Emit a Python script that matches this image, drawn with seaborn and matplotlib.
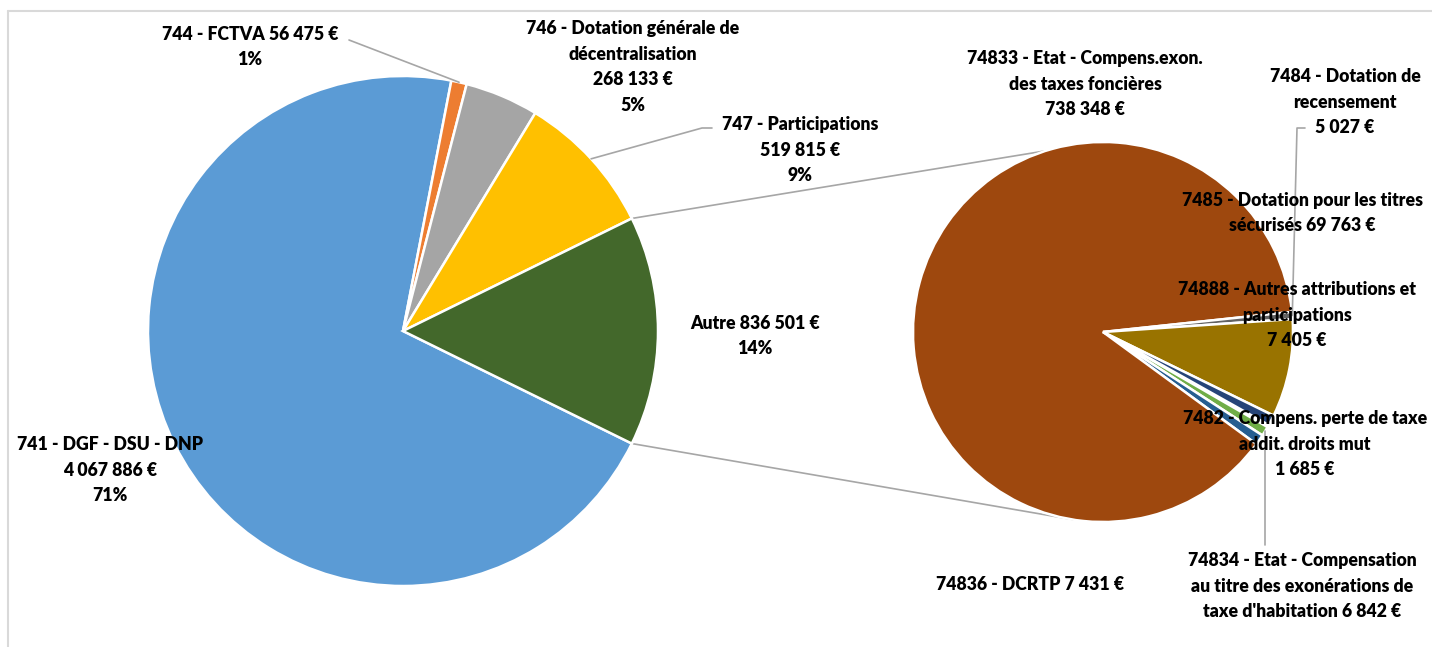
import numpy as np
import matplotlib
matplotlib.use("Agg")
import matplotlib.pyplot as plt
import seaborn as sns

# ---- data: main pie ----
main_names = ["741 - DGF - DSU - DNP", "744 - FCTVA", "746 - Dotation générale de\ndécentralisation",
              "747 - Participations", "Autre"]
main_values = [4067886, 56475, 268133, 519815, 836501]
main_pcts = [71, 1, 5, 9, 14]
main_colors = ["#5B9BD5", "#ED7D31", "#A5A5A5", "#FFC000", "#43682B"]

# ---- data: detail pie (breakdown of "Autre") ----
sub_names = ["7482 - Compens. perte de taxe\naddit. droits mut",
             "74834 - Etat - Compensation\nau titre des exonérations de\ntaxe d'habitation",
             "74836 - DCRTP",
             "74833 - Etat - Compens.exon.\ndes taxes foncières",
             "7484 - Dotation de\nrecensement",
             "7485 - Dotation pour les titres\nsécurisés",
             "74888 - Autres attributions et\nparticipations"]
sub_values = [1685, 6842, 7431, 738348, 5027, 69763, 7405]
sub_colors = ["#4472C4", "#70AD47", "#255E91", "#9E480E", "#636363", "#997300", "#264478"]

# ---- layout (pixels, origin top-left) ----
W, H = 1432, 647
main_center, main_r = (403, 331), 255
sub_center, sub_r = (1103, 332), 190
sub_start = -29.3
main_sep = ["\n", " ", "\n", "\n", " "]
main_pos = [(110, 470), (250, 47), (633, 67), (800, 150), (755, 336)]
sub_sep = ["\n", " ", " ", "\n", "\n", " ", "\n"]
sub_pos = [(1305, 444), (1302, 586), (1030, 585), (1085, 84), (1345, 102), (1302, 213), (1297, 315)]

sns.set_theme(style="white")
plt.rcParams["font.family"] = ["Lato", "DejaVu Sans"]
FS = 12.7
LS = 1.6
LINE = "#A6A6A6"


def euro(v):
    return f"{v:,}".replace(",", " ") + " €"


def py(y):
    return H - y


fig = plt.figure(figsize=(W / 100, H / 100), dpi=100)
ax = fig.add_axes([0, 0, 1, 1])

wp = dict(edgecolor="white", linewidth=1.8)
main_start = -180 * main_values[-1] / sum(main_values)
main_w, _ = ax.pie(main_values, colors=main_colors, center=(main_center[0], py(main_center[1])),
                   radius=main_r, startangle=main_start, counterclock=False, wedgeprops=wp)
sub_w, _ = ax.pie(sub_values, colors=sub_colors, center=(sub_center[0], py(sub_center[1])),
                  radius=sub_r, startangle=sub_start, counterclock=False, wedgeprops=wp)


def edge_point(center, r, ang):
    a = np.deg2rad(ang)
    return center[0] + r * np.cos(a), py(center[1]) + r * np.sin(a)


# connector lines between the two pies
autre = main_w[-1]
for a_main, a_sub in [(autre.theta2, 107.5), (autre.theta1, -98.5)]:
    x0, y0 = edge_point(main_center, main_r, a_main)
    x1, y1 = edge_point(sub_center, sub_r, a_sub)
    ax.plot([x0, x1], [y0, y1], color=LINE, lw=1.2, zorder=0)

# labels
for i, (n, v, p) in enumerate(zip(main_names, main_values, main_pcts)):
    x, y = main_pos[i]
    ax.text(x, py(y), f"{n}{main_sep[i]}{euro(v)}\n{p}%", ha="center", va="center",
            fontsize=FS, fontweight="heavy", linespacing=LS, color="black")
for i, (n, v) in enumerate(zip(sub_names, sub_values)):
    x, y = sub_pos[i]
    ax.text(x, py(y), f"{n}{sub_sep[i]}{euro(v)}", ha="center", va="center",
            fontsize=FS, fontweight="heavy", linespacing=LS, color="black")

# leader lines
w = main_w[1]
x1, y1 = edge_point(main_center, main_r, (w.theta1 + w.theta2) / 2)
ax.plot([349, x1], [py(40), y1], color=LINE, lw=1.2)
w = main_w[3]
x1, y1 = edge_point(main_center, main_r, (w.theta1 + w.theta2) / 2)
ax.plot([712, 702, x1], [py(128), py(128), y1], color=LINE, lw=1.2)
w = sub_w[4]
x1, y1 = edge_point(sub_center, sub_r, (w.theta1 + w.theta2) / 2)
ax.plot([1305, 1297, x1], [py(128), py(128), y1], color=LINE, lw=1.2)
w = sub_w[1]
x1, y1 = edge_point(sub_center, sub_r, (w.theta1 + w.theta2) / 2)
ax.plot([x1, x1], [py(545), y1], color=LINE, lw=1.2)

# chart area border (top/left visible)
ax.plot([8, W], [py(11), py(11)], color="#D9D9D9", lw=1.5)
ax.plot([8, 8], [py(11), 0], color="#D9D9D9", lw=1.5)

ax.set_xlim(0, W)
ax.set_ylim(0, H)
ax.set_aspect("auto")
ax.axis("off")
fig.savefig("out.png", dpi=100, facecolor="white")
